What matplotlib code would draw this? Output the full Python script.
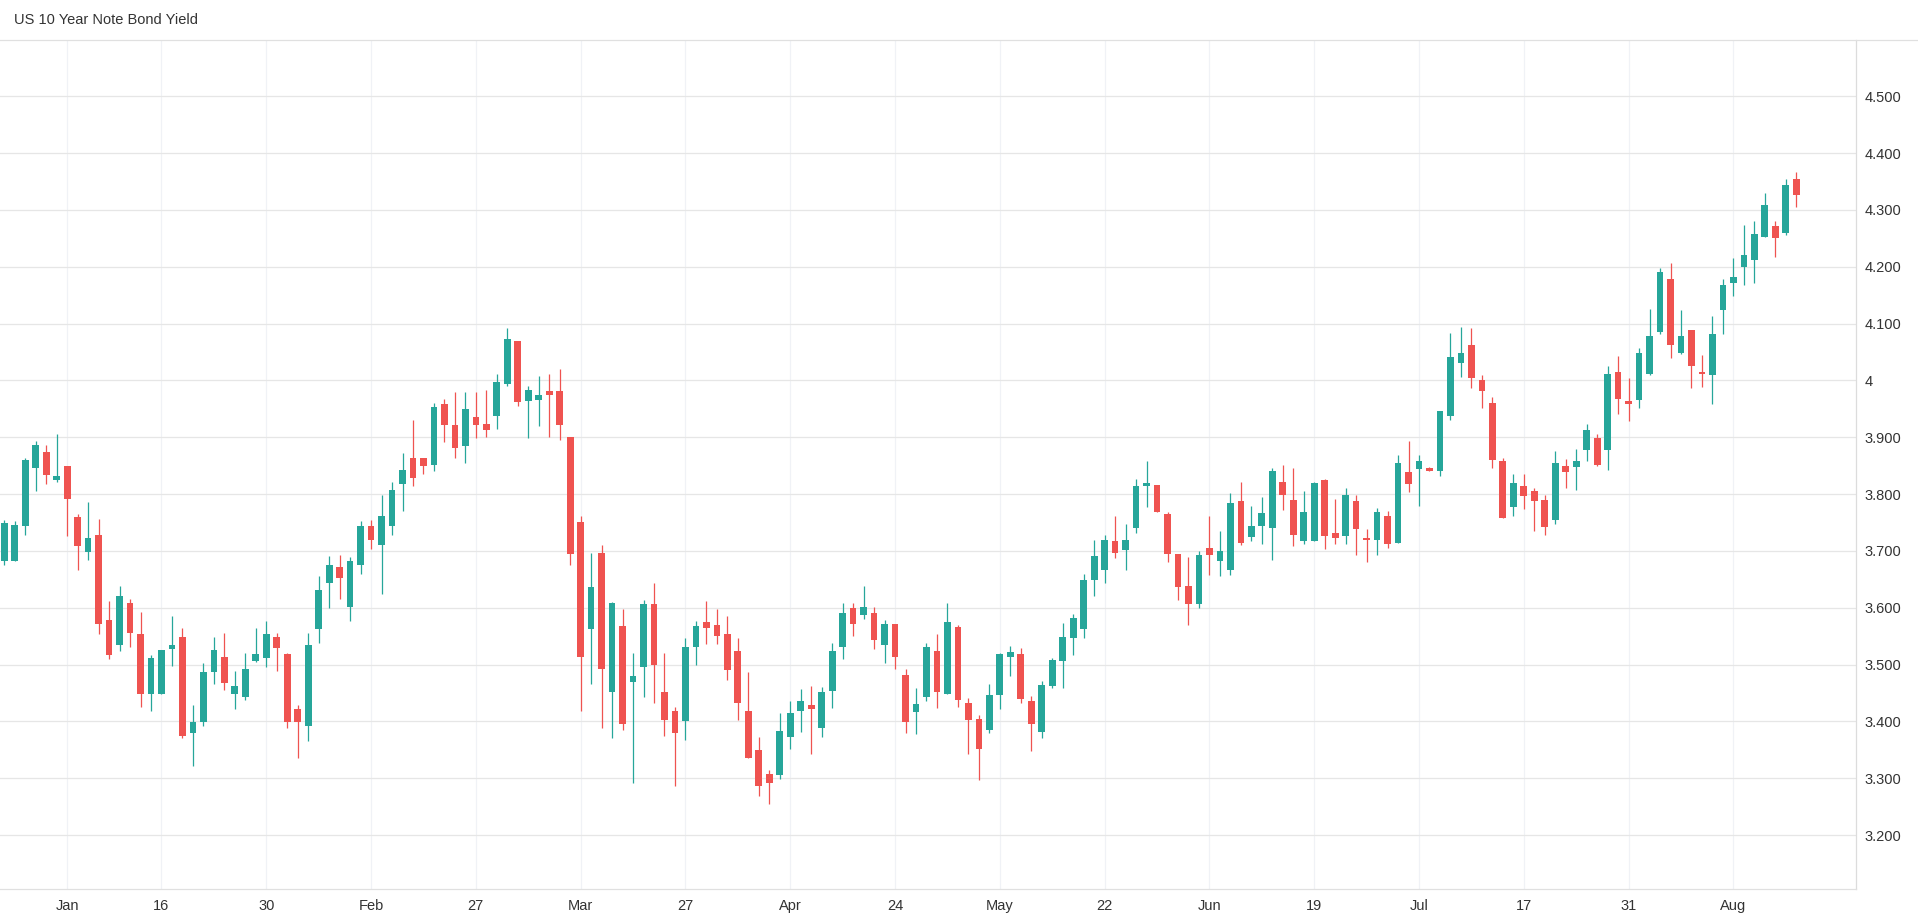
import numpy as np
import pandas as pd
import matplotlib
matplotlib.use("Agg")
import matplotlib.pyplot as plt
from matplotlib.lines import Line2D

plt.rcParams['font.family'] = ['Liberation Sans', 'DejaVu Sans']

# one candle per weekday, starting Mon 26 Dec 2022
start_date = "2022-12-26"

opens = [3.682, 3.682, 3.744, 3.846, 3.874, 3.825, 3.849, 3.759, 3.698, 3.728,
         3.579, 3.534, 3.609, 3.553, 3.448, 3.448, 3.527, 3.548, 3.379, 3.398,
         3.486, 3.514, 3.449, 3.442, 3.506, 3.511, 3.548, 3.518, 3.422, 3.391,
         3.562, 3.644, 3.672, 3.601, 3.675, 3.743, 3.710, 3.743, 3.817, 3.863,
         3.863, 3.851, 3.958, 3.921, 3.884, 3.935, 3.924, 3.937, 3.994, 4.069,
         3.964, 3.965, 3.981, 3.981, 3.901, 3.750, 3.562, 3.697, 3.451, 3.568,
         3.469, 3.495, 3.607, 3.452, 3.419, 3.400, 3.530, 3.574, 3.570, 3.554,
         3.524, 3.419, 3.350, 3.308, 3.305, 3.372, 3.419, 3.429, 3.389, 3.453,
         3.530, 3.600, 3.588, 3.591, 3.534, 3.572, 3.482, 3.417, 3.442, 3.523,
         3.449, 3.566, 3.432, 3.404, 3.385, 3.447, 3.514, 3.519, 3.436, 3.382,
         3.463, 3.507, 3.546, 3.562, 3.648, 3.667, 3.718, 3.701, 3.740, 3.815,
         3.816, 3.765, 3.695, 3.638, 3.606, 3.705, 3.683, 3.667, 3.788, 3.724,
         3.743, 3.740, 3.822, 3.790, 3.717, 3.717, 3.824, 3.732, 3.726, 3.787,
         3.722, 3.719, 3.762, 3.713, 3.838, 3.844, 3.845, 3.840, 3.937, 4.031,
         4.062, 4.000, 3.961, 3.859, 3.777, 3.815, 3.805, 3.789, 3.754, 3.850,
         3.847, 3.877, 3.898, 3.877, 4.015, 3.964, 3.965, 4.012, 4.086, 4.179,
         4.049, 4.089, 4.014, 4.009, 4.123, 4.171, 4.199, 4.211, 4.252, 4.271,
         4.259, 4.355]
highs = [3.754, 3.752, 3.864, 3.893, 3.886, 3.906, 3.849, 3.765, 3.786, 3.756,
         3.611, 3.639, 3.615, 3.592, 3.516, 3.525, 3.586, 3.564, 3.429, 3.502,
         3.549, 3.556, 3.489, 3.521, 3.565, 3.576, 3.555, 3.521, 3.428, 3.556,
         3.655, 3.691, 3.692, 3.690, 3.752, 3.755, 3.799, 3.822, 3.872, 3.930,
         3.863, 3.961, 3.968, 3.979, 3.979, 3.979, 3.983, 4.011, 4.092, 4.069,
         3.990, 4.007, 4.011, 4.020, 3.901, 3.762, 3.697, 3.711, 3.610, 3.598,
         3.520, 3.614, 3.644, 3.521, 3.426, 3.546, 3.577, 3.612, 3.597, 3.586,
         3.546, 3.486, 3.373, 3.315, 3.415, 3.436, 3.457, 3.463, 3.461, 3.538,
         3.609, 3.609, 3.639, 3.602, 3.579, 3.572, 3.493, 3.459, 3.538, 3.553,
         3.609, 3.570, 3.441, 3.411, 3.466, 3.520, 3.533, 3.529, 3.445, 3.471,
         3.512, 3.573, 3.589, 3.660, 3.720, 3.728, 3.762, 3.748, 3.827, 3.859,
         3.816, 3.769, 3.695, 3.690, 3.700, 3.762, 3.735, 3.801, 3.822, 3.779,
         3.794, 3.845, 3.852, 3.845, 3.806, 3.822, 3.826, 3.792, 3.810, 3.799,
         3.738, 3.776, 3.771, 3.868, 3.893, 3.868, 3.847, 3.947, 4.083, 4.094,
         4.092, 4.009, 3.970, 3.864, 3.836, 3.836, 3.810, 3.798, 3.875, 3.861,
         3.879, 3.923, 3.905, 4.025, 4.043, 4.005, 4.057, 4.126, 4.198, 4.207,
         4.124, 4.089, 4.045, 4.114, 4.179, 4.216, 4.274, 4.281, 4.329, 4.281,
         4.355, 4.366]
lows = [3.676, 3.682, 3.728, 3.806, 3.818, 3.822, 3.726, 3.666, 3.684, 3.554,
        3.509, 3.524, 3.531, 3.426, 3.419, 3.448, 3.497, 3.370, 3.322, 3.391,
        3.465, 3.455, 3.421, 3.437, 3.504, 3.495, 3.488, 3.389, 3.335, 3.366,
        3.538, 3.599, 3.615, 3.576, 3.659, 3.703, 3.624, 3.728, 3.770, 3.814,
        3.835, 3.840, 3.891, 3.863, 3.854, 3.899, 3.900, 3.914, 3.990, 3.955,
        3.899, 3.920, 3.900, 3.895, 3.675, 3.419, 3.465, 3.389, 3.370, 3.384,
        3.292, 3.442, 3.432, 3.375, 3.287, 3.368, 3.500, 3.536, 3.536, 3.472,
        3.402, 3.336, 3.268, 3.255, 3.299, 3.352, 3.382, 3.342, 3.373, 3.423,
        3.509, 3.550, 3.580, 3.527, 3.502, 3.493, 3.380, 3.377, 3.435, 3.423,
        3.449, 3.426, 3.343, 3.297, 3.380, 3.422, 3.480, 3.433, 3.347, 3.370,
        3.458, 3.458, 3.516, 3.547, 3.620, 3.643, 3.688, 3.667, 3.731, 3.778,
        3.769, 3.681, 3.614, 3.570, 3.600, 3.658, 3.655, 3.657, 3.710, 3.717,
        3.712, 3.684, 3.772, 3.708, 3.712, 3.717, 3.703, 3.712, 3.712, 3.692,
        3.680, 3.692, 3.705, 3.713, 3.803, 3.779, 3.840, 3.832, 3.930, 4.006,
        3.987, 3.951, 3.846, 3.758, 3.761, 3.773, 3.735, 3.728, 3.747, 3.810,
        3.808, 3.859, 3.849, 3.842, 3.940, 3.929, 3.951, 4.010, 4.082, 4.040,
        4.047, 3.986, 3.989, 3.959, 4.081, 4.148, 4.167, 4.171, 4.252, 4.217,
        4.255, 4.306]
closes = [3.749, 3.745, 3.860, 3.886, 3.834, 3.832, 3.792, 3.709, 3.722, 3.571,
          3.516, 3.620, 3.555, 3.448, 3.512, 3.525, 3.535, 3.375, 3.399, 3.486,
          3.525, 3.467, 3.463, 3.493, 3.519, 3.553, 3.529, 3.398, 3.398, 3.534,
          3.632, 3.675, 3.652, 3.683, 3.743, 3.719, 3.762, 3.808, 3.843, 3.828,
          3.849, 3.953, 3.921, 3.881, 3.949, 3.921, 3.913, 3.997, 4.072, 3.962,
          3.983, 3.975, 3.974, 3.921, 3.694, 3.514, 3.637, 3.493, 3.608, 3.396,
          3.479, 3.607, 3.500, 3.403, 3.379, 3.530, 3.568, 3.565, 3.551, 3.490,
          3.432, 3.336, 3.287, 3.291, 3.383, 3.415, 3.435, 3.421, 3.452, 3.523,
          3.591, 3.571, 3.602, 3.544, 3.572, 3.514, 3.398, 3.431, 3.530, 3.451,
          3.575, 3.438, 3.403, 3.352, 3.446, 3.519, 3.522, 3.440, 3.396, 3.464,
          3.508, 3.549, 3.582, 3.649, 3.691, 3.720, 3.697, 3.720, 3.815, 3.820,
          3.769, 3.695, 3.636, 3.607, 3.693, 3.692, 3.700, 3.785, 3.713, 3.744,
          3.766, 3.840, 3.798, 3.728, 3.769, 3.820, 3.726, 3.722, 3.799, 3.738,
          3.719, 3.769, 3.712, 3.854, 3.817, 3.859, 3.840, 3.946, 4.041, 4.048,
          4.004, 3.981, 3.860, 3.758, 3.820, 3.796, 3.788, 3.742, 3.854, 3.839,
          3.858, 3.912, 3.852, 4.012, 3.968, 3.958, 4.049, 4.079, 4.190, 4.062,
          4.079, 4.025, 4.012, 4.082, 4.168, 4.182, 4.221, 4.258, 4.309, 4.250,
          4.343, 4.326]

tick_dates = ["2023-01-03", "2023-01-16", "2023-01-30", "2023-02-13", "2023-02-27",
              "2023-03-13", "2023-03-27", "2023-04-10", "2023-04-24", "2023-05-08",
              "2023-05-22", "2023-06-05", "2023-06-19", "2023-07-03", "2023-07-17",
              "2023-07-31", "2023-08-14"]
tick_labels = ["Jan", "16", "30", "Feb", "27", "Mar", "27", "Apr", "24", "May",
               "22", "Jun", "19", "Jul", "17", "31", "Aug"]

y_ticks = [3.2, 3.3, 3.4, 3.5, 3.6, 3.7, 3.8, 3.9, 4.0, 4.1, 4.2, 4.3, 4.4, 4.5]
y_labels = ["3.200", "3.300", "3.400", "3.500", "3.600", "3.700", "3.800",
            "3.900", "4", "4.100", "4.200", "4.300", "4.400", "4.500"]

UP = "#26a69a"
DOWN = "#ef5350"
TEXT = "#333333"

dates = pd.bdate_range(start_date, periods=len(closes))
x = np.arange(len(dates))
o, h, l, c = (np.array(v) for v in (opens, highs, lows, closes))
colors = np.where(c >= o, UP, DOWN)

W, H = 1918, 917
fig = plt.figure(figsize=(W / 100, H / 100), dpi=100)
ax = fig.add_axes([0, 28 / H, 1856 / W, 849 / H])

# wicks then bodies
ax.vlines(x, l, h, colors=colors, linewidth=0.9, zorder=2)
body_bottom = np.minimum(o, c)
body_height = np.maximum(np.abs(c - o), 0.002)
ax.bar(x, body_height, bottom=body_bottom, width=0.64, color=colors,
       linewidth=0, zorder=3)

ax.set_xlim(-0.41, 176.7)
ax.set_ylim(3.105, 4.599)

tick_pos = dates.get_indexer(pd.to_datetime(tick_dates))
ax.set_xticks(tick_pos)
ax.set_xticklabels(tick_labels)
ax.set_yticks(y_ticks)
ax.set_yticklabels(y_labels)
ax.yaxis.tick_right()

ax.set_axisbelow(True)
ax.grid(axis="y", color="#e6e6e6", linewidth=0.9)
ax.grid(axis="x", color="#f0f2f6", linewidth=0.9)

ax.tick_params(axis="y", length=0, pad=6, labelsize=10.5, labelcolor=TEXT)
ax.tick_params(axis="x", length=0, pad=15, labelsize=10.5, labelcolor=TEXT)
# baseline alignment so labels with descenders (Apr, May, Aug) line up
for lbl in ax.get_xticklabels():
    lbl.set_verticalalignment("baseline")

ax.spines["left"].set_visible(False)
ax.spines["top"].set_visible(False)
ax.spines["right"].set_color("#dcdcdc")
ax.spines["bottom"].set_color("#e0e0e0")
for s in ("right", "bottom"):
    ax.spines[s].set_linewidth(0.9)

# top border runs across the whole width
fig.add_artist(Line2D([0, 1], [1 - 40 / H, 1 - 40 / H], color="#e0e0e0",
                      linewidth=0.9, transform=fig.transFigure))

fig.text(14 / W, 1 - 20.5 / H, "US 10 Year Note Bond Yield", ha="left",
         va="center", fontsize=10.5, color=TEXT)

fig.savefig("out.png", dpi=100)
